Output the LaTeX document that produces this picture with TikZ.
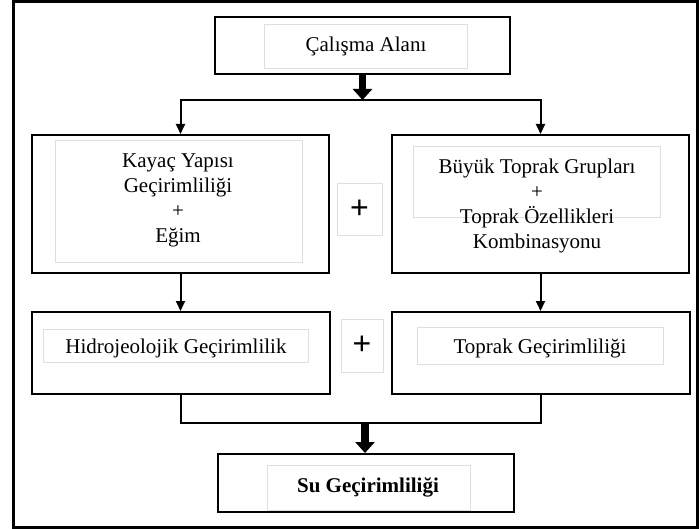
\documentclass[tikz,border=0pt]{standalone}
\usepackage{fontspec}
\setmainfont{Liberation Serif}
\newfontfamily\plusfont{Liberation Sans}
\usetikzlibrary{arrows.meta}
\begin{document}
\begin{tikzpicture}[x=1pt,y=-1pt,
  box/.style={draw=black, line width=2pt, inner sep=0pt},
  faint/.style={draw=black!13, line width=0.8pt, inner sep=0pt},
  txt/.style={font=\fontsize{21}{25}\selectfont, align=center, inner sep=0pt},
  plustxt/.style={font=\plusfont\fontsize{32}{32}\selectfont, inner sep=0pt},
  conn/.style={line width=2pt},
  arr/.style={conn, -{Triangle[length=10pt,width=9pt]}},
  bigarr/.style={line width=7.5pt, -{Triangle[length=11pt,width=19pt]}}]
\useasboundingbox (0,0) rectangle (700,529);
\fill[white] (0,0) rectangle (700,529);
% outer frame
\node[draw=black, line width=3pt, inner sep=0pt, minimum width=684pt, minimum height=525pt] (frame) at (355,264.5) {};
% main boxes
\node[box, minimum width=295pt, minimum height=57pt] (top) at (362.5,45.5) {};
\node[box, minimum width=297pt, minimum height=138pt] (L1) at (180.5,204) {};
\node[box, minimum width=297pt, minimum height=138pt] (R1) at (540.5,204) {};
\node[box, minimum width=298pt, minimum height=82pt] (L2) at (181,353) {};
\node[box, minimum width=298pt, minimum height=82pt] (R2) at (541,353) {};
\node[box, minimum width=296pt, minimum height=58pt] (F) at (366,483) {};
% faint text frames
\node[faint, minimum width=203pt, minimum height=44pt] (topf) at (365.5,46) {};
\node[faint, minimum width=247pt, minimum height=122pt] (L1f) at (178.5,201) {};
\node[faint, minimum width=247pt, minimum height=71pt] (R1f) at (536.5,181.5) {};
\node[faint, minimum width=45pt, minimum height=52pt] (P1) at (359.5,209) {};
\node[faint, minimum width=265pt, minimum height=33pt] (L2f) at (175.5,345.5) {};
\node[faint, minimum width=246pt, minimum height=37pt] (R2f) at (540,345.5) {};
\node[faint, minimum width=42pt, minimum height=53pt] (P2) at (362,345.5) {};
\node[faint, minimum width=203pt, minimum height=45pt] (Ff) at (368.5,487.5) {};
% texts
\node[txt] (ttop) at (366,46) {Çalışma Alanı};
\node[txt] (tL1) at (178,200) {Kayaç Yapısı\\Geçirimliliği\\+\\Eğim};
\node[txt] (tR1) at (537,206) {Büyük Toprak Grupları\\+\\Toprak Özellikleri\\Kombinasyonu};
\node[txt] (tL2) at (176,348) {Hidrojeolojik Geçirimlilik};
\node[txt] (tR2) at (540,348) {Toprak Geçirimliliği};
\node[txt, font=\fontsize{21}{25}\selectfont\bfseries] (tF) at (368,487) {Su Geçirimliliği};
\node[plustxt] (p1) at (359.5,209) {+};
\node[plustxt] (p2) at (362,345) {+};
% connectors
\coordinate (fork) at (362.5,100);
\draw[bigarr] (top.south) -- (fork);
\draw[arr] (fork) -| (L1.north);
\draw[arr] (fork) -| (R1.north);
\draw[arr] (L1.south) -- (L1.south |- L2.north);
\draw[arr] (R1.south) -- (R1.south |- R2.north);
\coordinate (join) at (365,423);
\draw[conn] (L2.south) |- (join) -| (R2.south);
\draw[bigarr] (join) -- (join |- F.north);
\end{tikzpicture}
\end{document}
